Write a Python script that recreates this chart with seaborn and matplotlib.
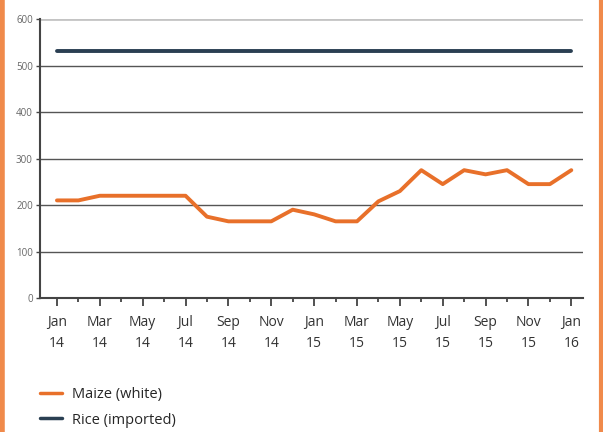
import pandas as pd
import matplotlib
matplotlib.use('Agg')
import matplotlib.pyplot as plt
import seaborn as sns
from matplotlib.lines import Line2D
from matplotlib.ticker import MultipleLocator

# Monthly prices, Jan 2014 - Jan 2016
months = ['Jan 14', 'Feb 14', 'Mar 14', 'Apr 14', 'May 14', 'Jun 14', 'Jul 14',
          'Aug 14', 'Sep 14', 'Oct 14', 'Nov 14', 'Dec 14',
          'Jan 15', 'Feb 15', 'Mar 15', 'Apr 15', 'May 15', 'Jun 15', 'Jul 15',
          'Aug 15', 'Sep 15', 'Oct 15', 'Nov 15', 'Dec 15', 'Jan 16']
maize = [210, 210, 220, 220, 220, 220, 220, 175, 165, 165, 165, 190,
         180, 165, 165, 208, 230, 275, 245, 275, 266, 275, 245, 245, 275]
rice = [531] * 25
tick_labels = ['Jan\n14', 'Mar\n14', 'May\n14', 'Jul\n14', 'Sep\n14', 'Nov\n14',
               'Jan\n15', 'Mar\n15', 'May\n15', 'Jul\n15', 'Sep\n15', 'Nov\n15', 'Jan\n16']

orange = '#e8702a'
navy = '#2a3f52'

df = pd.DataFrame({
    'idx': list(range(len(months))) * 2,
    'price': maize + rice,
    'series': ['Maize (white)'] * len(months) + ['Rice (imported)'] * len(months),
})

sns.set_style('white')
plt.rcParams['font.family'] = ['Open Sans', 'DejaVu Sans']

fig = plt.figure(figsize=(6.03, 4.32), dpi=100)
ax = fig.add_axes([0.066, 0.31, 0.901, 0.646])

# horizontal grid lines
for v in [100, 200, 300, 400, 500]:
    ax.axhline(v, color='#555555', lw=1.0, zorder=0)
ax.axhline(600, color='#c4c4c4', lw=2.0, zorder=0)

sns.lineplot(data=df, x='idx', y='price', hue='series',
             palette={'Maize (white)': orange, 'Rice (imported)': navy},
             linewidth=2.8, legend=False, ax=ax)

ax.set_xlim(-0.8, 24.55)
ax.set_ylim(0, 600)
ax.yaxis.set_major_locator(MultipleLocator(100))
ax.set_xticks(range(0, 25, 2))
ax.set_xticklabels(tick_labels, linespacing=1.6)
ax.set_xticks(range(1, 25, 2), minor=True)
ax.set_xlabel('')
ax.set_ylabel('')

for s in ['top', 'right']:
    ax.spines[s].set_visible(False)
for s in ['left', 'bottom']:
    ax.spines[s].set_color('#444444')
    ax.spines[s].set_linewidth(1.5)

ax.tick_params(axis='y', labelsize=7, colors='#444444', length=3, width=1, pad=2,
               left=True, direction='out')
ax.tick_params(axis='x', which='major', labelsize=10, colors='#333333', length=6,
               width=1.2, pad=6, bottom=True, direction='out')
ax.tick_params(axis='x', which='minor', length=3, width=1.2, color='#333333',
               bottom=True, direction='out')
for lab in ax.get_yticklabels():
    lab.set_color('#666666')

# legend below the chart
handles = [Line2D([], [], color=orange, lw=2.5), Line2D([], [], color=navy, lw=2.5)]
fig.legend(handles, ['Maize (white)', 'Rice (imported)'], loc='lower left',
           bbox_to_anchor=(0.045, -0.02), frameon=False, fontsize=10.5,
           handlelength=1.5, labelspacing=0.72, handletextpad=0.7)

# orange side borders
fig.add_artist(Line2D([0.003, 0.003], [0, 1], color='#f08a4b', lw=4,
                      transform=fig.transFigure))
fig.add_artist(Line2D([0.996, 0.996], [0, 1], color='#f08a4b', lw=3,
                      transform=fig.transFigure))

fig.savefig('out.png', dpi=100)
